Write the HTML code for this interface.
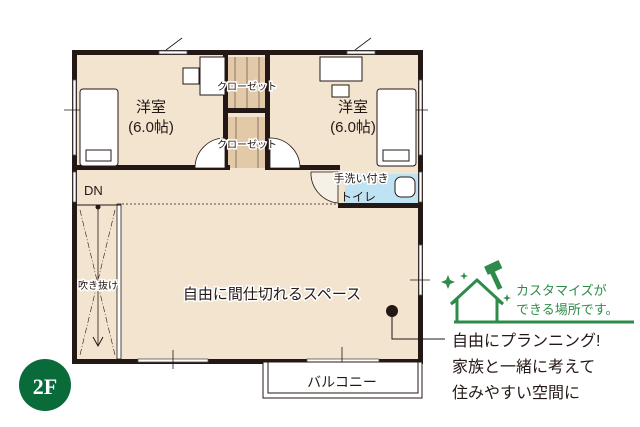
<!DOCTYPE html>
<html><head><meta charset="utf-8"><style>
html,body{margin:0;padding:0;background:#fff;}
svg{display:block;}
text{font-family:"Liberation Sans","Noto Sans CJK JP",sans-serif;fill:#231815;}
</style></head><body>
<svg width="640" height="427" viewBox="0 0 640 427" xmlns="http://www.w3.org/2000/svg">
<!-- floor -->
<rect x="74" y="52" width="347" height="310" fill="#f2e4cf"/>
<!-- toilet blue -->
<rect x="345" y="174" width="73" height="32" fill="#bfe3f2"/>
<!-- closets -->
<rect x="228" y="57" width="38" height="53" fill="#e2c9a8"/>
<rect x="228" y="117" width="38" height="51" fill="#e2c9a8"/>
<g stroke="#8a7560" stroke-width="1">
<line x1="235" y1="57" x2="235" y2="110"/><line x1="247" y1="57" x2="247" y2="110"/><line x1="259" y1="57" x2="259" y2="110"/>
<line x1="236" y1="117" x2="236" y2="168"/><line x1="258" y1="117" x2="258" y2="168"/>
</g>
<!-- outer walls -->
<g fill="#231815">
<rect x="72" y="50" width="351" height="5"/>
<rect x="72" y="50" width="5" height="314"/>
<rect x="418" y="50" width="5" height="314"/>
<rect x="72" y="359" width="351" height="5"/>
<rect x="72" y="165" width="158" height="5"/>
<rect x="265" y="165" width="75" height="5"/>
<rect x="338" y="203" width="85" height="5"/>
<rect x="223" y="52" width="5" height="116"/>
<rect x="265" y="52" width="5" height="116"/>
<rect x="228" y="108" width="38" height="5"/>
</g>
<!-- windows -->
<g fill="#fff" stroke="#555" stroke-width="0.8">
<rect x="159" y="51" width="28" height="3"/><rect x="347" y="51" width="28" height="3"/>
<rect x="73" y="80" width="3" height="75"/><rect x="419" y="80" width="3" height="75"/>
<rect x="73" y="172" width="3" height="30"/><rect x="419" y="172" width="3" height="30"/>
<rect x="419" y="245" width="3" height="50"/>
<rect x="138" y="359" width="70" height="3"/><rect x="307" y="359" width="72" height="3"/>
</g>
<g stroke="#231815" stroke-width="0.8" fill="none">
<line x1="166" y1="50" x2="182" y2="38"/><line x1="355" y1="50" x2="371" y2="38"/>
<line x1="64" y1="110" x2="86" y2="110"/><line x1="408" y1="110" x2="428" y2="110"/>
<line x1="410" y1="280" x2="430" y2="280"/>
<line x1="173" y1="350" x2="173" y2="369"/>
<line x1="342" y1="347" x2="342" y2="368"/>
</g>
<!-- beds -->
<g fill="#fff" stroke="#231815" stroke-width="1">
<rect x="80" y="89" width="38" height="77" rx="3"/>
<rect x="86" y="150" width="25" height="11"/>
<rect x="377" y="89" width="39" height="77" rx="3"/>
<rect x="383" y="150" width="26" height="11"/>
<rect x="200" y="57" width="25" height="38"/>
<rect x="183" y="68" width="16" height="16"/>
<rect x="320" y="57" width="42" height="24"/>
<rect x="332" y="85" width="17" height="12"/>
</g>
<!-- doors -->
<g stroke="#231815" stroke-width="0.8" fill="#fff">
<path d="M195 168 A30 30 0 0 1 225 138 L225 168 Z"/>
<path d="M270 168 L270 138 A30 30 0 0 1 300 168 Z"/>
<path d="M311 172 A30 30 0 0 0 338 203 L338 172 Z" fill="#f7f0e6"/>
</g>
<rect x="395" y="177" width="20" height="20" rx="6" fill="#fff" stroke="#231815"/>
<!-- dotted -->
<line x1="122" y1="204" x2="338" y2="204" stroke="#231815" stroke-dasharray="2,2" stroke-width="0.8"/>
<!-- fukinuke -->
<rect x="77" y="205" width="42" height="154" fill="#f2e4cf"/>
<rect x="117" y="204" width="4" height="155" fill="#fff" stroke="#231815" stroke-width="0.8"/>
<line x1="77" y1="205" x2="121" y2="205" stroke="#231815" stroke-width="1"/>
<g stroke="#231815" stroke-width="0.6" stroke-dasharray="6,2,1,2" fill="none">
<line x1="80" y1="210" x2="115" y2="355"/><line x1="115" y1="210" x2="80" y2="355"/>
</g>
<line x1="98" y1="207" x2="98" y2="345" stroke="#231815" stroke-width="0.8"/>
<path d="M93 337 L98 346 L103 337" stroke="#231815" fill="none"/>
<circle cx="98" cy="207" r="2.5" fill="#231815"/>
<!-- balcony -->
<rect x="263" y="362" width="159" height="36" fill="#fff" stroke="#231815" stroke-width="1"/>
<rect x="268" y="362" width="150" height="31" fill="#fff" stroke="#231815" stroke-width="1"/>
<!-- labels -->
<text x="151" y="112" font-size="15" text-anchor="middle">洋室</text>
<text x="151" y="132" font-size="15" text-anchor="middle">(6.0帖)</text>
<text x="353" y="112" font-size="15" text-anchor="middle">洋室</text>
<text x="353" y="132" font-size="15" text-anchor="middle">(6.0帖)</text>
<text x="247" y="90" font-size="10" text-anchor="middle" stroke="#fff" stroke-width="3" paint-order="stroke">クローゼット</text>
<text x="247" y="148" font-size="10" text-anchor="middle" stroke="#fff" stroke-width="3" paint-order="stroke">クローゼット</text>
<text x="361" y="182" font-size="11" text-anchor="middle" stroke="#fff" stroke-width="3" paint-order="stroke">手洗い付き</text>
<text x="358" y="201" font-size="12" text-anchor="middle">トイレ</text>
<text x="84" y="195" font-size="13">DN</text>
<text x="98" y="289" font-size="10" text-anchor="middle" stroke="#fff" stroke-width="3" paint-order="stroke">吹き抜け</text>
<text x="272" y="299" font-size="15" text-anchor="middle" stroke="#fff" stroke-width="3" paint-order="stroke">自由に間仕切れるスペース</text>
<text x="342" y="387" font-size="14" text-anchor="middle">バルコニー</text>
<!-- dot callout -->
<circle cx="392" cy="311" r="6" fill="#231815"/>
<path d="M392 311 L392 339 L445 339" stroke="#231815" fill="none" stroke-width="1"/>
<!-- 2F -->
<circle cx="45" cy="385" r="26" fill="#0a6b3a"/>
<text x="45" y="394" font-size="22" font-family="Liberation Serif,serif" font-weight="bold" text-anchor="middle" style="fill:#fff;font-family:'Liberation Serif',serif">2F</text>
<!-- green house -->
<g stroke="#2e8b4a" stroke-width="3" fill="none">
<path d="M457 322 L457 300 L451 304 L477 280 L503 304 L497 300 L497 322"/>
<line x1="454" y1="322" x2="634" y2="322"/>
</g>
<g fill="#2e8b4a">
<rect x="485" y="263" width="16" height="9" transform="rotate(-25 493 267)"/>
<rect x="493" y="268" width="5" height="22" transform="rotate(-25 495 279)"/>
<path d="M448 275 l2 5 l5 2 l-5 2 l-2 5 l-2 -5 l-5 -2 l5 -2z"/>
<path d="M464 272 l1 3 l3 1 l-3 1 l-1 3 l-1 -3 l-3 -1 l3 -1z"/>
<path d="M507 294 l1 3 l3 1 l-3 1 l-1 3 l-1 -3 l-3 -1 l3 -1z"/>
</g>
<text x="516" y="295" font-size="13" style="fill:#2e8b4a">カスタマイズが</text>
<text x="516" y="314" font-size="13" style="fill:#2e8b4a">できる場所です。</text>
<text x="452" y="346" font-size="16">自由にプランニング!</text>
<text x="452" y="372" font-size="16">家族と一緒に考えて</text>
<text x="452" y="398" font-size="16">住みやすい空間に</text>
</svg>
</body></html>
